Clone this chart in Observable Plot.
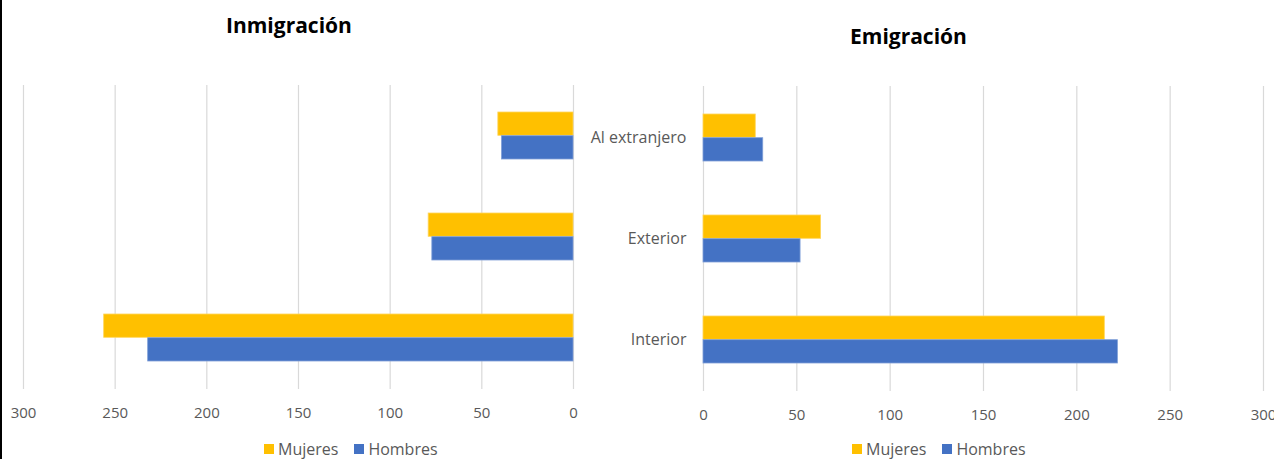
<!DOCTYPE html>
<html>
<head>
<meta charset="utf-8">
<script src="https://cdn.jsdelivr.net/npm/d3@7"></script>
<script src="https://cdn.jsdelivr.net/npm/@observablehq/plot@0.6"></script>
<style>
  html, body { margin: 0; padding: 0; background: #fff; }
  #wrap { position: relative; width: 1274px; height: 459px; overflow: hidden; background: #fff; font-family: "Open Sans", sans-serif; }
  .edge { position: absolute; left: 0; top: 0; width: 2px; height: 459px; background: #000; }
  .title { position: absolute; font-weight: bold; font-size: 21px; color: #000; white-space: nowrap; }
  .legend { position: absolute; display: flex; align-items: center; font-size: 16px; line-height: 18px; color: #595959; white-space: nowrap; }
  .legend .sw { display: inline-block; width: 10px; height: 10px; margin-right: 4px; }
  .legend .item { display: flex; align-items: center; margin-right: 16px; }
  .plot { position: absolute; top: 0; }
  .plot g[aria-label="y-axis tick label"] text { font-size: 16px; }
</style>
</head>
<body>
<div id="wrap"><div class="edge"></div></div>
<script>
// ---- data ----
const categories = ["Al extranjero", "Exterior", "Interior"];
const series = ["Mujeres", "Hombres"];
const colors = ["#FFC000", "#4472C4"];
const inmMujeres = [41, 79, 256];
const inmHombres = [39, 77, 232];
const emiMujeres = [28, 63, 215];
const emiHombres = [32, 52, 222];
const xTicks = [0, 50, 100, 150, 200, 250, 300];
const titles = ["Inmigración", "Emigración"];

const wrap = document.getElementById("wrap");

function rows(values) {
  return categories.map((c, i) => ({category: c, value: values[i]}));
}

function makePlot({mujeres, hombres, reverse, width, height, marginLeft, marginRight, marginTop, marginBottom, showY}) {
  const half = 23.7;
  return Plot.plot({
    width, height, marginLeft, marginRight, marginTop, marginBottom,
    style: {fontFamily: "Open Sans, sans-serif", fontSize: "15px", color: "#595959", background: "transparent", overflow: "visible"},
    x: {domain: [0, 300], reverse, ticks: xTicks, tickSize: 0, tickPadding: 18, label: null},
    y: {domain: categories, paddingInner: 0.532, paddingOuter: 0.266, label: null, axis: showY ? "left" : null, tickSize: 0, tickPadding: 17},
    marks: [
      Plot.gridX(xTicks, {stroke: "#d9d9d9", strokeOpacity: 1, strokeWidth: 1.2}),
      Plot.barX(rows(mujeres), {x1: 0, x2: "value", y: "category", fill: colors[0], stroke: "#ffd65c", strokeWidth: 0.8, insetBottom: half, insetTop: 0}),
      Plot.barX(rows(hombres), {x1: 0, x2: "value", y: "category", fill: colors[1], stroke: "#7f9fd8", strokeWidth: 0.8, insetTop: half, insetBottom: 0})
    ]
  });
}

const left = makePlot({mujeres: inmMujeres, hombres: inmHombres, reverse: true,
  width: 580, height: 430, marginLeft: 23, marginRight: 7, marginTop: 85, marginBottom: 41, showY: false});
left.classList.add("plot");
left.style.left = "0px";
wrap.appendChild(left);

const right = makePlot({mujeres: emiMujeres, hombres: emiHombres, reverse: false,
  width: 694, height: 431, marginLeft: 123, marginRight: 11, marginTop: 86, marginBottom: 40, showY: true});
right.classList.add("plot");
right.style.left = "580px";
wrap.appendChild(right);

function addTitle(text, left, top) {
  const d = document.createElement("div");
  d.className = "title";
  d.textContent = text;
  d.style.left = left + "px";
  d.style.top = top + "px";
  wrap.appendChild(d);
}
addTitle(titles[0], 226, 11);
addTitle(titles[1], 850, 22);

function addLegend(left, top) {
  const d = document.createElement("div");
  d.className = "legend";
  d.style.left = left + "px";
  d.style.top = top + "px";
  series.forEach((s, i) => {
    const it = document.createElement("span");
    it.className = "item";
    const sw = document.createElement("span");
    sw.className = "sw";
    sw.style.background = colors[i];
    it.appendChild(sw);
    it.appendChild(document.createTextNode(s));
    d.appendChild(it);
  });
  wrap.appendChild(d);
}
addLegend(264, 440);
addLegend(852, 440);
</script>
</body>
</html>
